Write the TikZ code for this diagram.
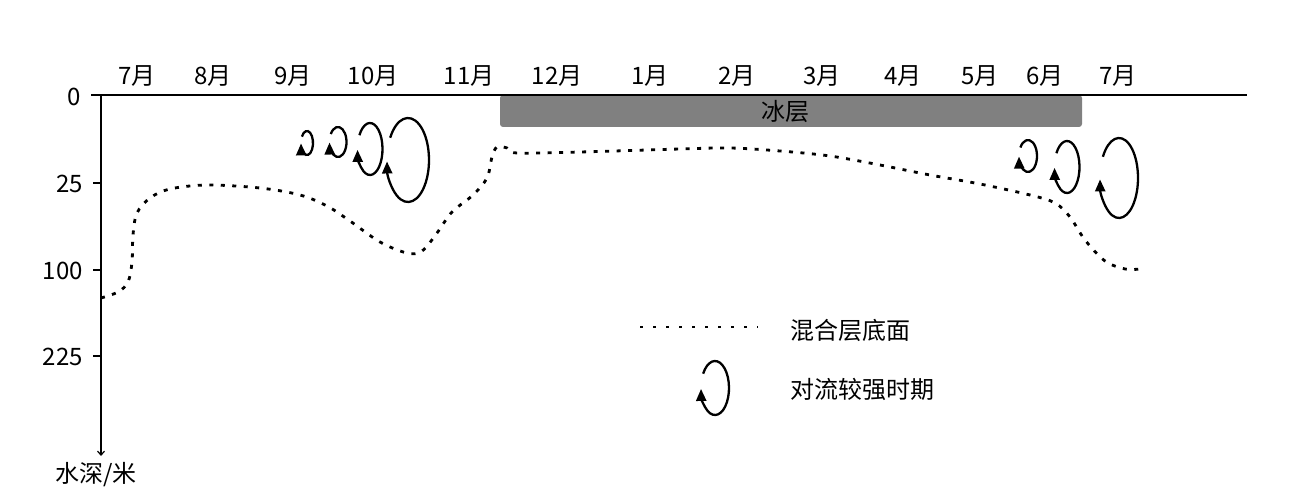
\documentclass[tikz,border=0pt]{standalone}
\usepackage{fontspec}
\setmainfont{Noto Sans CJK SC}
\usetikzlibrary{arrows.meta,calc}
\tikzset{
  lbl/.style={inner sep=0pt,font=\fontsize{24}{27}\selectfont},
  ylbl/.style={lbl,anchor=east},
  axisline/.style={line width=1.4pt},
  mixline/.style={line width=2.8pt,dash pattern=on 4pt off 7.5pt},
  swirlline/.style={line width=2.3pt,-{Triangle[length=12pt,width=10pt]}},
  icebar/.style={fill={rgb,255:red,128;green,128;blue,128},draw=none,rounded corners=3pt}
}
\newcommand\myswirl[5]{%
  \draw[swirlline] ($(#1,#2)+(212:#3 and #4)$) coordinate (#5) arc[start angle=212,end angle=538,x radius=#3,y radius=#4];}
\begin{document}
\begin{tikzpicture}[x=1pt,y=-1pt]
\useasboundingbox (0,0) rectangle (1314,502);
% ice bar
\fill[icebar] (500,95) rectangle (1082,127);
\node[lbl] (ice) at (785,112) {冰层};
% axes
\coordinate (xa) at (91,95);
\coordinate (xb) at (1247,95);
\coordinate (ya) at (101,95);
\coordinate (yb) at (101,456);
\draw[axisline] (xa) -- (xb);
\draw[line width=1.2pt,-{Straight Barb[length=4pt,width=7pt]}] (ya) -- (yb);
\foreach \yy in {183,270,356}{\draw[axisline] (93,\yy) -- (101,\yy);}
\node[ylbl] (y0) at (81,97) {0};
\node[ylbl] (y25) at (83,184) {25};
\node[ylbl] (y100) at (83,271) {100};
\node[ylbl] (y225) at (83,357) {225};
\node[lbl] (ytitle) at (96,475) {水深/米};
% months
\foreach \xx/\mm [count=\i] in {137/7,213/8,293/9,373/10,469/11,557/12,650/1,737/2,822/3,903/4,980/5,1045/6,1118/7}{
  \node[lbl] (m\i) at (\xx,76) {\mm 月};}
% mixed layer bottom
\draw[mixline] plot[smooth,tension=0.55] coordinates {
(101,298) (118,292) (128,282) (132,262) (133,235) (137,213) (150,198) (170,189) (207,185) (260,188) (300,195) (327,206) (350,221) (380,242) (407,253) (422,251) (437,233) (452,212) (473,195) (487,178) (492,157) (497,147) (507,148) (517,153) (580,152) (680,149) (730,148) (780,151) (830,156) (880,165) (930,175) (980,184) (1030,195) (1055,203) (1070,217) (1085,240) (1105,261) (1125,269) (1140,269)};
% swirls
\myswirl{307}{143}{6}{12}{s1}
\myswirl{338}{142}{8.5}{15}{s2}
\myswirl{370}{149}{12.5}{26}{s3}
\myswirl{408}{160}{21}{42}{s4}
\myswirl{1028}{156}{9}{16}{s5}
\myswirl{1067}{167}{12.5}{26}{s6}
\myswirl{1119}{178}{19}{40}{s7}
% legend
\coordinate (la) at (640,327);
\coordinate (lb) at (758,327);
\draw[line width=2pt,dash pattern=on 2.5pt off 10.5pt] (la) -- (lb);
\node[lbl,anchor=west] (leg1) at (790,330) {混合层底面};
\myswirl{715}{388}{14}{27}{s8}
\node[lbl,anchor=west] (leg2) at (790,389) {对流较强时期};
\end{tikzpicture}
\end{document}
